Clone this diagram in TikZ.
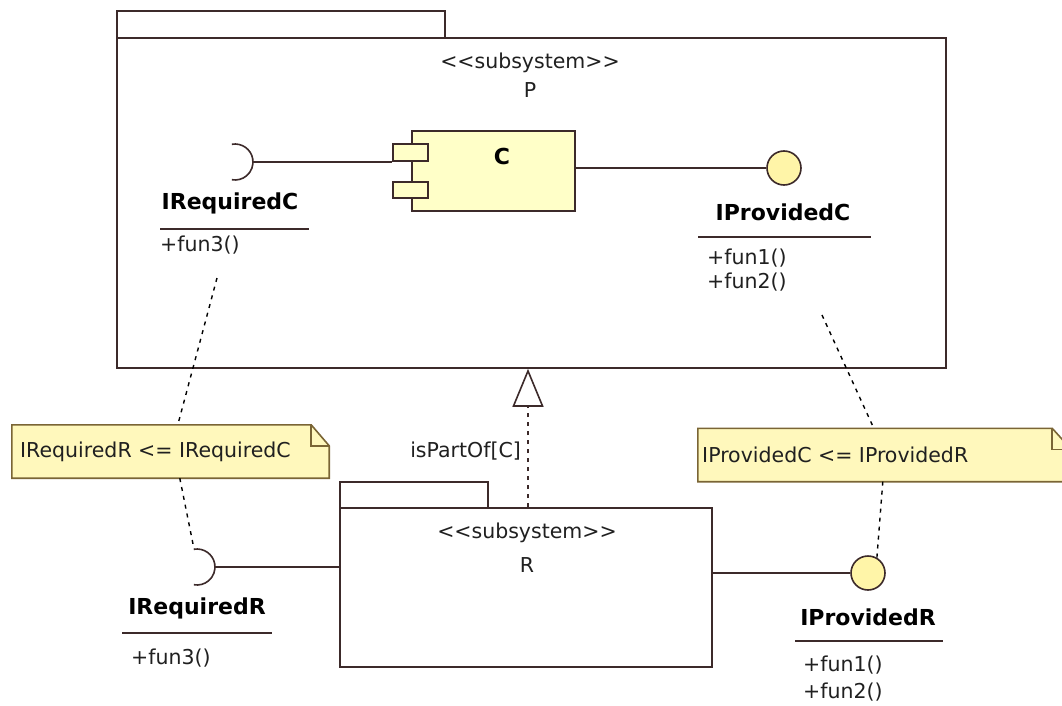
\documentclass[tikz,border=0pt]{standalone}
\usepackage{fontspec}
\setmainfont{DejaVu Sans}
\usetikzlibrary{arrows.meta,calc}
\definecolor{lc}{HTML}{3C2A2A}
\definecolor{nb}{HTML}{7A6535}
\definecolor{yf}{HTML}{FFFFC8}
\definecolor{nf}{HTML}{FFF8BC}
\definecolor{cf}{HTML}{FFF5A8}
\definecolor{tc}{HTML}{202020}
\newcommand{\lt}{\mbox{<}}
\newcommand{\gt}{\mbox{>}}
\begin{document}
\begin{tikzpicture}[x=1pt,y=-1pt,
  box/.style={draw=lc, line width=1.6pt, inner sep=0pt, minimum width=#1},
  yel/.style={fill=yf},
  conn/.style={draw=lc, line width=1.6pt},
  dsh/.style={draw=black, line width=1.4pt, dash pattern=on 4pt off 5pt},
  txt/.style={inner sep=0pt, font=\fontsize{20.5}{24}\selectfont, text=tc},
  btxt/.style={inner sep=0pt, font=\fontsize{22}{26}\selectfont\bfseries, text=black},
  iface/.style={circle, draw=lc, line width=1.6pt, fill=cf, minimum size=34pt, inner sep=0pt},
  notebox/.style={inner sep=0pt, minimum width=#1, minimum height=53pt}
]
\clip (0,0) rectangle (1062,706);
\fill[white] (0,0) rectangle (1062,706);

% ---------- package P ----------
\node[box=328pt, minimum height=27pt] (Ptab) at (281,24.5) {};
\node[box=829pt, minimum height=330pt] (P) at (531.5,203) {};
\node[txt] (Pst) at (530,63) {\lt\lt subsystem\gt\gt};
\node[txt] (Pname) at (530,90) {P};

% component C
\node[box=163pt, minimum height=80pt, yel] (C) at (493.5,171) {};
\node[box=35pt, minimum height=17pt, yel] (port1) at (410.5,152.5) {};
\node[box=35pt, minimum height=16pt, yel] (port2) at (410.5,190) {};
\node[btxt] (Cname) at (502,156) {C};

% required interface of C
\coordinate (sockC) at (235,162);
\coordinate (sockCr) at (253,162);
\draw[conn] ([shift={(100:18pt)}]sockC) arc[start angle=100, end angle=-100, radius=18pt];
\draw[conn] (sockCr) -- (sockCr -| port1.west);
\node[btxt] (IRC) at (230,203) {IRequiredC};
\coordinate (IRCl) at (160,229);
\coordinate (IRCr) at (309,229);
\draw[conn] (IRCl) -- (IRCr);
\node[txt, anchor=west] (IRCf3) at (160,245) {+fun3()};

% provided interface of C
\node[iface] (provC) at (784,168) {};
\draw[conn] (C.east |- provC.west) -- (provC.west);
\node[btxt] (IPC) at (783,212) {IProvidedC};
\coordinate (IPCl) at (698,237);
\coordinate (IPCr) at (871,237);
\draw[conn] (IPCl) -- (IPCr);
\node[txt, anchor=west] (IPCf1) at (707,258) {+fun1()};
\node[txt, anchor=west] (IPCf2) at (707,282) {+fun2()};

% ---------- package R ----------
\node[box=148pt, minimum height=26pt] (Rtab) at (414,495) {};
\node[box=372pt, minimum height=159pt] (R) at (526,587.5) {};
\node[txt] (Rst) at (527,533) {\lt\lt subsystem\gt\gt};
\node[txt] (Rname) at (527,565) {R};

% required interface of R
\coordinate (sockR) at (197,567);
\coordinate (sockRr) at (215,567);
\draw[conn] ([shift={(100:18pt)}]sockR) arc[start angle=100, end angle=-100, radius=18pt];
\draw[conn] (sockRr) -- (R.west |- sockRr);
\node[btxt] (IRR) at (197,608) {IRequiredR};
\coordinate (IRRl) at (122,633);
\coordinate (IRRr) at (272,633);
\draw[conn] (IRRl) -- (IRRr);
\node[txt, anchor=west] (IRRf3) at (131,658) {+fun3()};

% provided interface of R
\node[iface] (provR) at (868,573) {};
\draw[conn] (R.east |- provR.west) -- (provR.west);
\node[btxt] (IPR) at (868,617) {IProvidedR};
\coordinate (IPRl) at (795,641);
\coordinate (IPRr) at (943,641);
\draw[conn] (IPRl) -- (IPRr);
\node[txt, anchor=west] (IPRf1) at (803,665) {+fun1()};
\node[txt, anchor=west] (IPRf2) at (803,692) {+fun2()};

% ---------- isPartOf realization ----------
\coordinate (gx) at (528,0);
\draw[dsh, -{Triangle[open, length=38pt, width=31pt, line width=1.6pt]}, draw=lc]
  (R.north -| gx) -- (P.south -| gx);
\node[txt, anchor=east] (isp) at (521,451) {isPartOf[C]};

% ---------- notes ----------
\node[notebox=317pt] (n1) at (170.5,451.5) {};
\filldraw[fill=nf, draw=nb, line width=1.6pt]
  (n1.north west) -- ($(n1.north east)+(-18,0)$) -- ($(n1.north east)+(0,21)$)
  -- (n1.south east) -- (n1.south west) -- cycle;
\draw[draw=nb, line width=1.6pt] ($(n1.north east)+(-18,0)$) -- ($(n1.north east)+(-18,21)$) -- ($(n1.north east)+(0,21)$);
\node[txt, anchor=west] (n1t) at (20,452) {IRequiredR \lt= IRequiredC};

\node[notebox=373pt] (n2) at (884.5,455) {};
\filldraw[fill=nf, draw=nb, line width=1.6pt]
  (n2.north west) -- ($(n2.north east)+(-19,0)$) -- ($(n2.north east)+(0,21)$)
  -- (n2.south east) -- (n2.south west) -- cycle;
\draw[draw=nb, line width=1.6pt] ($(n2.north east)+(-19,0)$) -- ($(n2.north east)+(-19,21)$) -- ($(n2.north east)+(0,21)$);
\node[txt, anchor=west] (n2t) at (702,455) {IProvidedC \lt= IProvidedR};

% ---------- dashed note links ----------
\coordinate (d1a) at (217,278);
\draw[dsh] (d1a) -- ($(n1.north west)+(166,0)$);
\draw[dsh] ($(n1.south west)+(168,0)$) -- ($(sockR)+(-3,-18)$);
\coordinate (d3a) at (822,315);
\draw[dsh] (d3a) -- ($(n2.north west)+(176,0)$);
\draw[dsh] ($(n2.south west)+(185,0)$) -- (provR.60);
\end{tikzpicture}
\end{document}
